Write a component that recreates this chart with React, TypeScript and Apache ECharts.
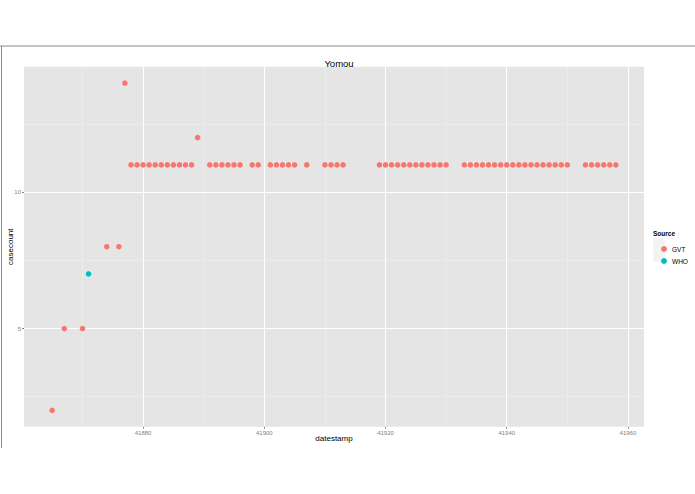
import React, { useEffect, useRef } from "react";
import * as echarts from "echarts";

const gvtDates = [
  41865, 41867, 41870, 41874, 41876, 41877,
  41878, 41879, 41880, 41881, 41882, 41883, 41884, 41885, 41886, 41887, 41888,
  41889,
  41891, 41892, 41893, 41894, 41895, 41896,
  41898, 41899,
  41901, 41902, 41903, 41904, 41905,
  41907,
  41910, 41911, 41912, 41913,
  41919, 41920, 41921, 41922, 41923, 41924, 41925, 41926, 41927, 41928, 41929, 41930,
  41933, 41934, 41935, 41936, 41937, 41938, 41939, 41940, 41941, 41942, 41943, 41944, 41945, 41946, 41947, 41948, 41949, 41950,
  41953, 41954, 41955, 41956, 41957, 41958,
];
const gvtCounts = [
  2, 5, 5, 8, 8, 14,
  11, 11, 11, 11, 11, 11, 11, 11, 11, 11, 11,
  12,
  11, 11, 11, 11, 11, 11,
  11, 11,
  11, 11, 11, 11, 11,
  11,
  11, 11, 11, 11,
  11, 11, 11, 11, 11, 11, 11, 11, 11, 11, 11, 11,
  11, 11, 11, 11, 11, 11, 11, 11, 11, 11, 11, 11, 11, 11, 11, 11, 11, 11,
  11, 11, 11, 11, 11, 11,
];
const whoDates = [41871];
const whoCounts = [7];

const xMajor = [41880, 41900, 41920, 41940, 41960];
const xMinor = [41870, 41890, 41910, 41930, 41950];
const yMajor = [5, 10];
const yMinor = [2.5, 7.5, 12.5];
const xRange = [41860.35, 41962.65];
const yRange = [1.4, 14.6];

const FONT = "'Liberation Sans', Arial, sans-serif";

export default function App() {
  const ref = useRef<HTMLDivElement>(null);
  useEffect(() => {
    document.body.style.margin = "0";
    const chart = echarts.init(ref.current!, null, { renderer: "svg" });
    const gridLines = (vals: number[], axis: "xAxis" | "yAxis", color: string, width: number) =>
      vals.map((v) => ({ [axis]: v, lineStyle: { color, width, type: "solid" } }));
    chart.setOption({
      animation: false,
      backgroundColor: "#ffffff",
      textStyle: { fontFamily: FONT },
      title: {
        text: "Yomou",
        left: 334,
        top: 53,
        textAlign: "center",
        textStyle: { fontSize: 9.5, fontWeight: "normal", color: "#000", fontFamily: FONT },
      },
      grid: {
        left: 24,
        top: 66.7,
        width: 620,
        height: 360,
        show: true,
        backgroundColor: "#E5E5E5",
        borderWidth: 0,
        containLabel: false,
        outerBoundsMode: "none",
      },
      xAxis: {
        type: "value",
        min: xRange[0],
        max: xRange[1],
        name: "datestamp",
        nameLocation: "middle",
        nameGap: 8,
        nameMoveOverlap: false,
        nameTextStyle: { fontSize: 8, color: "#000", fontFamily: FONT },
        axisLine: { show: false },
        splitLine: { show: false },
        axisTick: { show: true, length: 2, lineStyle: { color: "#7F7F7F" }, customValues: xMajor },
        axisLabel: {
          customValues: xMajor,
          formatter: (v: number) => String(v),
          fontSize: 6,
          color: "#7F7F7F",
          margin: 3,
          fontFamily: FONT,
        },
      },
      yAxis: {
        type: "value",
        min: yRange[0],
        max: yRange[1],
        name: "casecount",
        nameLocation: "middle",
        nameGap: 10,
        nameMoveOverlap: false,
        nameRotate: 90,
        nameTextStyle: { fontSize: 8, color: "#000", fontFamily: FONT },
        axisLine: { show: false },
        splitLine: { show: false },
        axisTick: { show: true, length: 2, lineStyle: { color: "#7F7F7F" }, customValues: yMajor },
        axisLabel: {
          customValues: yMajor,
          formatter: (v: number) => String(v),
          fontSize: 6,
          color: "#7F7F7F",
          margin: 3,
          fontFamily: FONT,
        },
      },
      legend: {
        orient: "vertical",
        left: 656,
        top: 238,
        itemWidth: 6,
        itemHeight: 6,
        itemGap: 0,
        icon: "circle",
        data: ["GVT", "WHO"],
        textStyle: { fontSize: 6.5, color: "#000", lineHeight: 12, fontFamily: FONT },
      },
      graphic: [
        { type: "line", shape: { x1: 0, y1: 46, x2: 695, y2: 46 }, style: { stroke: "#8a8a8a", lineWidth: 1 } },
        { type: "line", shape: { x1: 1.5, y1: 46, x2: 1.5, y2: 448 }, style: { stroke: "#8a8a8a", lineWidth: 1 } },
        {
          type: "text",
          left: 653,
          top: 230,
          style: { text: "Source", fontSize: 6.5, fontWeight: "bold", fill: "#000", fontFamily: FONT },
        },
        { type: "rect", z: 0, shape: { x: 653.3, y: 238.2, width: 11.5, height: 11.5 }, style: { fill: "#F2F2F2" } },
        { type: "rect", z: 0, shape: { x: 653.3, y: 250.2, width: 11.5, height: 11.5 }, style: { fill: "#F2F2F2" } },
      ],
      series: [
        {
          type: "scatter",
          name: "grid",
          data: [],
          z: 1,
          silent: true,
          markLine: {
            z: 1,
            silent: true,
            symbol: "none",
            label: { show: false },
            animation: false,
            data: [
              ...gridLines(xMinor, "xAxis", "#F2F2F2", 0.5),
              ...gridLines(yMinor, "yAxis", "#F2F2F2", 0.5),
              ...gridLines(xMajor, "xAxis", "#FFFFFF", 1),
              ...gridLines(yMajor, "yAxis", "#FFFFFF", 1),
            ],
          },
        },
        {
          type: "scatter",
          name: "GVT",
          z: 3,
          symbolSize: 5.5,
          itemStyle: { color: "#F8766D", opacity: 1 },
          data: gvtDates.map((d, i) => [d, gvtCounts[i]]),
        },
        {
          type: "scatter",
          name: "WHO",
          z: 3,
          symbolSize: 5.5,
          itemStyle: { color: "#00BFC4", opacity: 1 },
          data: whoDates.map((d, i) => [d, whoCounts[i]]),
        },
      ],
    });
    return () => chart.dispose();
  }, []);
  return <div ref={ref} style={{ width: 695, height: 494 }} />;
}
